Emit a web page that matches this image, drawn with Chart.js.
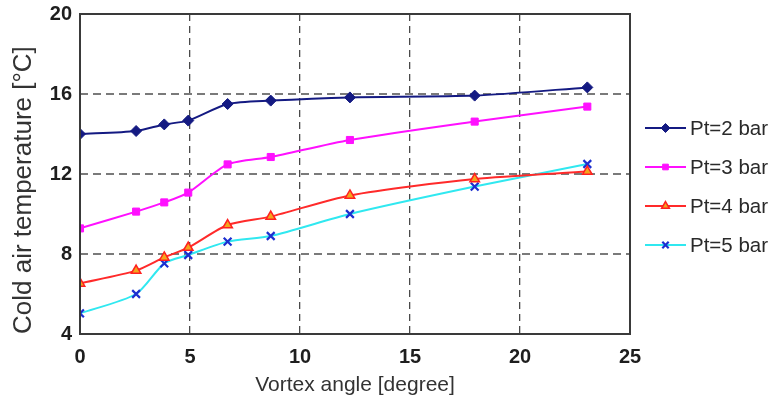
<!DOCTYPE html>
<html>
<head>
<meta charset="utf-8">
<script src="https://cdn.jsdelivr.net/npm/chart.js@4.4.1/dist/chart.umd.min.js"></script>
<style>
html,body{margin:0;padding:0;background:#fff;}
#wrap{width:772px;height:410px;position:relative;}
</style>
</head>
<body>
<div id="wrap"><canvas id="c" width="772" height="410"></canvas></div>
<script>
// Data
const angles = [0, 2.55, 3.83, 4.92, 6.71, 8.67, 12.27, 17.94, 23.06];
const pt2 = [14.0, 14.15, 14.48, 14.67, 15.5, 15.67, 15.83, 15.92, 16.33];
const pt3 = [9.28, 10.12, 10.58, 11.07, 12.48, 12.85, 13.7, 14.62, 15.37];
const pt4 = [6.53, 7.17, 7.83, 8.32, 9.45, 9.87, 10.93, 11.75, 12.12];
const pt5 = [5.03, 6.0, 7.53, 7.95, 8.62, 8.9, 10.0, 11.37, 12.5];
const seriesNames = ['Pt=2 bar', 'Pt=3 bar', 'Pt=4 bar', 'Pt=5 bar'];
const xTicks = [0, 5, 10, 15, 20, 25];
const yTicks = [4, 8, 12, 16, 20];
const xTitle = 'Vortex angle [degree]';
const yTitle = 'Cold air temperature [°C]';

const pts = arr => arr.map((v, i) => ({x: angles[i], y: v}));

const styles = [
  {line: '#141a82', pointStyle: 'rectRot', radius: 5.5, bg: '#141a82', bc: '#141a82', bw: 1},
  {line: '#ff10ff', pointStyle: 'rect', radius: 5, bg: '#ff10ff', bc: '#ff10ff', bw: 1},
  {line: '#ff2a2a', pointStyle: 'triangle', radius: 5.5, bg: '#f4a51c', bc: '#ff2020', bw: 1.5},
  {line: '#30e8f0', pointStyle: 'crossRot', radius: 5.5, bg: '#1c2fd0', bc: '#1c2fd0', bw: 2.2}
];
const values = [pt2, pt3, pt4, pt5];

const datasets = values.map((v, i) => ({
  label: seriesNames[i],
  data: pts(v),
  borderColor: styles[i].line,
  borderWidth: 2,
  tension: 0.25,
  pointStyle: styles[i].pointStyle,
  pointRadius: styles[i].radius,
  pointBackgroundColor: styles[i].bg,
  pointBorderColor: styles[i].bc,
  pointBorderWidth: styles[i].bw,
  fill: false
}));

const framePlugin = {
  id: 'frame',
  afterDraw(chart) {
    const {ctx, chartArea: a} = chart;
    ctx.save();
    ctx.strokeStyle = '#3a3a3a';
    ctx.lineWidth = 2;
    ctx.strokeRect(a.left, a.top, a.right - a.left, a.bottom - a.top);
    ctx.restore();
  }
};

const legendPlugin = {
  id: 'sideLegend',
  afterDraw(chart) {
    const ctx = chart.ctx;
    const x0 = 645, x1 = 686, tx = 690;
    const y0 = 128, dy = 39;
    ctx.save();
    chart.data.datasets.forEach((ds, i) => {
      const y = y0 + i * dy;
      ctx.strokeStyle = ds.borderColor;
      ctx.lineWidth = 2;
      ctx.beginPath();
      ctx.moveTo(x0, y);
      ctx.lineTo(x1, y);
      ctx.stroke();
      ctx.fillStyle = ds.pointBackgroundColor;
      ctx.strokeStyle = ds.pointBorderColor;
      ctx.lineWidth = ds.pointBorderWidth;
      Chart.helpers.drawPoint(ctx, {pointStyle: ds.pointStyle, radius: ds.pointRadius - 1, rotation: 0, borderWidth: ds.pointBorderWidth}, (x0 + x1) / 2, y);
      ctx.fillStyle = '#2a2a2a';
      ctx.font = '20.5px "Liberation Sans", Arial, sans-serif';
      ctx.textBaseline = 'middle';
      ctx.textAlign = 'left';
      ctx.fillText(ds.label, tx, y + 1);
    });
    ctx.restore();
  }
};

const edgeTransparent = (edges, color) => c => (edges.includes(c.tick && c.tick.value) ? 'rgba(0,0,0,0)' : color);

new Chart(document.getElementById('c'), {
  type: 'line',
  data: {datasets},
  options: {
    responsive: false,
    animation: false,
    devicePixelRatio: 1,
    layout: {padding: {left: 0, top: 14, right: 142, bottom: 0}},
    plugins: {legend: {display: false}, tooltip: {enabled: false}},
    scales: {
      x: {
        type: 'linear',
        min: 0, max: 25,
        afterBuildTicks: s => { s.ticks = xTicks.map(v => ({value: v})); },
        afterFit: s => { s.height = 76; },
        ticks: {
          color: '#1e1e1e',
          padding: 11,
          font: {family: '"Liberation Sans", Arial, sans-serif', size: 20, weight: 'bold'}
        },
        grid: {
          color: edgeTransparent([0, 25], '#4a4a4a'),
          lineWidth: 1.3,
          drawTicks: false
        },
        border: {display: false, dash: [7, 5]},
        title: {
          display: true,
          text: xTitle,
          color: '#333',
          padding: {top: 0, bottom: 12},
          font: {family: '"Liberation Sans", Arial, sans-serif', size: 21}
        }
      },
      y: {
        type: 'linear',
        min: 4, max: 20,
        afterBuildTicks: s => { s.ticks = yTicks.map(v => ({value: v})); },
        afterFit: s => { s.width = 80; s.paddingTop = 0; s.paddingBottom = 0; },
        ticks: {
          color: '#1e1e1e',
          padding: 8,
          font: {family: '"Liberation Sans", Arial, sans-serif', size: 20, weight: 'bold'}
        },
        grid: {
          color: edgeTransparent([4, 20], '#7a7a7a'),
          lineWidth: 2,
          drawTicks: false
        },
        border: {display: false, dash: [8, 5]},
        title: {
          display: true,
          text: yTitle,
          align: 'start',
          color: '#333',
          padding: {top: 8, bottom: 0},
          font: {family: '"Liberation Sans", Arial, sans-serif', size: 26}
        }
      }
    }
  },
  plugins: [framePlugin, legendPlugin]
});
</script>
</body>
</html>
